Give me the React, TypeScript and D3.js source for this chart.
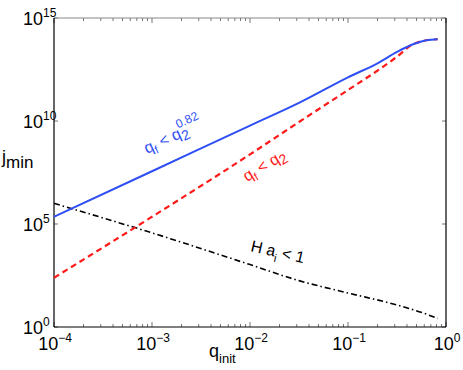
import * as d3 from 'd3';

// q_init values for the two upper curves
const qUpper = [1e-4, 1e-3, 1e-2, 0.0316, 0.1, 0.2, 0.316, 0.447, 0.631, 0.822];
// q_f < q_2^0.82 (blue, solid)
const jBlue = [2.24e5, 3.63e7, 6.0e9, 7.6e10, 1.32e12, 6.3e12, 2.24e13, 5.0e13, 8.3e13, 9.3e13];
// q_f < q_2 (red, dashed)
const jRed = [245, 2.24e5, 2.4e8, 8.9e9, 3.2e11, 2.8e12, 1.32e13, 4.9e13, 8.3e13, 9.3e13];
// H a_i < 1 (black, dash-dot)
const qLower = [1e-4, 1e-3, 1e-2, 0.0316, 0.1, 0.316, 0.631, 0.822];
const jBlack = [1e6, 3.7e4, 1.07e3, 178, 44.7, 11.7, 4.2, 2.6];

const xTicks = [-4, -3, -2, -1, 0];
const yTicks = [0, 5, 10, 15];

const W = 463;
const H = 370;
const left = 54, right = 446, top = 18, bottom = 327;

const x = d3.scaleLog().domain([1e-4, 1]).range([left, right]);
const y = d3.scaleLog().domain([1, 1e15]).range([bottom, top]);

const font = 'Helvetica, Arial, "Liberation Sans", sans-serif';

const mkLine = (xs: number[], ys: number[]) =>
  d3.line<number>().x((_, i) => x(xs[i])).y(d => y(d)).curve(d3.curveMonotoneX)(ys) || '';

const sup = (e: number) => (e < 0 ? '\u2212' + Math.abs(e) : String(e));

export default function App() {
  // minor ticks on the x axis
  const minor: number[] = [];
  for (let e = -4; e < 0; e++) for (let k = 2; k <= 9; k++) minor.push(k * Math.pow(10, e));

  return (
    <svg width={W} height={H} style={{ display: 'block', position: 'absolute', left: 0, top: 0, background: '#fff' }}
      fontFamily={font}>
      {/* ticks */}
      <g stroke="#777" strokeWidth={1}>
        {minor.map((v, i) => (
          <g key={'m' + i}>
            <line x1={x(v)} x2={x(v)} y1={bottom} y2={bottom - 3} />
            <line x1={x(v)} x2={x(v)} y1={top} y2={top + 3} />
          </g>
        ))}
        {xTicks.map(e => (
          <g key={'x' + e}>
            <line x1={x(Math.pow(10, e))} x2={x(Math.pow(10, e))} y1={bottom} y2={bottom - 5} />
            <line x1={x(Math.pow(10, e))} x2={x(Math.pow(10, e))} y1={top} y2={top + 5} />
          </g>
        ))}
        {yTicks.map(e => (
          <g key={'y' + e}>
            <line x1={left} x2={left + 4} y1={y(Math.pow(10, e))} y2={y(Math.pow(10, e))} />
            <line x1={right} x2={right - 4} y1={y(Math.pow(10, e))} y2={y(Math.pow(10, e))} />
          </g>
        ))}
      </g>

      {/* frame */}
      <line x1={left} x2={right} y1={top} y2={top} stroke="#888" strokeWidth={1.2} />
      <line x1={left} x2={right} y1={bottom} y2={bottom} stroke="#000" strokeWidth={1.2} />
      <line x1={left} x2={left} y1={top} y2={bottom} stroke="#000" strokeWidth={1.2} />
      <line x1={right} x2={right} y1={top} y2={bottom} stroke="#000" strokeWidth={1.2} />

      {/* curves */}
      <path d={mkLine(qLower, jBlack)} fill="none" stroke="#000" strokeWidth={1.6}
        strokeDasharray="6,3,1.5,3" />
      <path d={mkLine(qUpper, jRed)} fill="none" stroke="#ff1a1a" strokeWidth={2.2}
        strokeDasharray="6,4" />
      <path d={mkLine(qUpper, jBlue)} fill="none" stroke="#2f4ff5" strokeWidth={2} />

      {/* tick labels */}
      {yTicks.map(e => (
        <g key={'yl' + e}>
          <text x={43} y={y(Math.pow(10, e)) + 7} fontSize={18} textAnchor="end">10</text>
          <text x={43} y={y(Math.pow(10, e)) - 1} fontSize={12}>{sup(e)}</text>
        </g>
      ))}
      {xTicks.map(e => (
        <text key={'xl' + e} x={x(Math.pow(10, e)) + 1} y={350} fontSize={18} textAnchor="middle">
          10<tspan fontSize={12} dy={-8}>{sup(e)}</tspan>
        </text>
      ))}

      {/* axis labels */}
      <text x={2} y={163} fontSize={18}>j<tspan fontSize={17} dy={5}>min</tspan></text>
      <text x={209} y={357} fontSize={18}>q<tspan fontSize={13} dy={6}>init</tspan></text>

      {/* annotations */}
      <text transform="translate(147,154) rotate(-25)" fontSize={16} fill="#2f4ff5">
        q<tspan fontSize={11} dy={4}>f</tspan><tspan dy={-4}> &lt; q</tspan>
        <tspan fontSize={14} dy={4}>2</tspan><tspan fontSize={12} dx={-8} dy={-14}>0.82</tspan>
      </text>
      <text transform="translate(247,182) rotate(-31)" fontSize={16} fill="#ff1a1a">
        q<tspan fontSize={11} dy={4}>f</tspan><tspan dy={-4}> &lt; q</tspan>
        <tspan fontSize={14} dy={4}>2</tspan>
      </text>
      <text transform="translate(250,251) rotate(13)" fontSize={16} fill="#000">
        H a<tspan fontSize={11} dy={5}>i</tspan><tspan dy={-5}> &lt; 1</tspan>
      </text>
    </svg>
  );
}
